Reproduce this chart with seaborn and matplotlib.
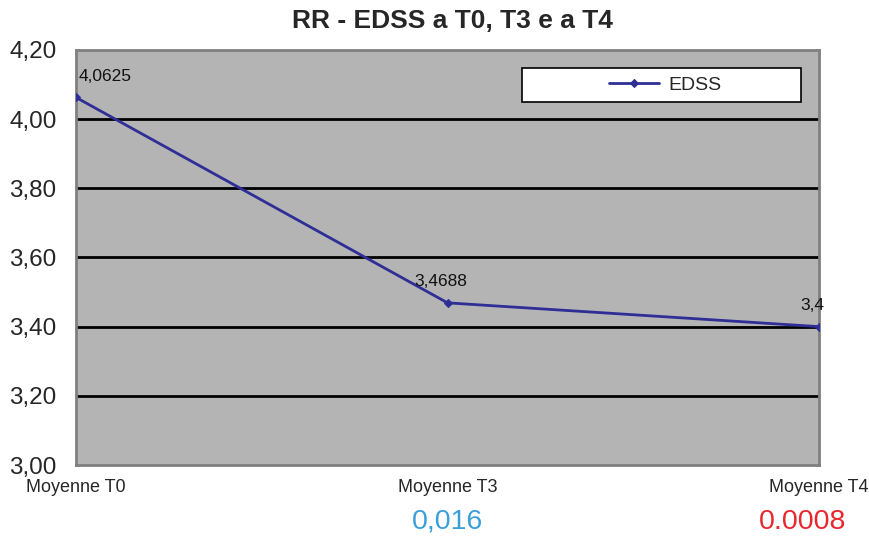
import matplotlib
matplotlib.use("Agg")
import matplotlib.pyplot as plt
from matplotlib.patches import Rectangle
import seaborn as sns
import pandas as pd

# ── Data ──────────────────────────────────────────────────────────────
categories = ["Moyenne T0", "Moyenne T3", "Moyenne T4"]
edss = [4.0625, 3.4688, 3.4]
point_labels = ["4,0625", "3,4688", "3,4"]
y_ticks = [3.00, 3.20, 3.40, 3.60, 3.80, 4.00, 4.20]
p_values = ["0,016", "0.0008"]
p_colors = ["#3a9fd8", "#e8262b"]

df = pd.DataFrame({"x": range(len(categories)), "EDSS": edss})

sns.set_theme(style="white")
plt.rcParams["font.family"] = ["Liberation Sans", "DejaVu Sans"]

fig = plt.figure(figsize=(8.7, 5.42), dpi=100)
ax = fig.add_axes([0.0874, 0.142, 0.854, 0.766])
ax.set_facecolor("#b4b4b4")

# black gridlines (inner ticks only)
for yv in y_ticks[1:-1]:
    ax.axhline(yv, color="black", lw=2, zorder=1)

sns.lineplot(data=df, x="x", y="EDSS", ax=ax, color="#2e2e96", lw=2,
             marker="D", markersize=4, markeredgecolor="#2e2e96",
             label="EDSS", zorder=3)

label_dx = [21, -5, -5]
for i, (v, lab) in enumerate(zip(edss, point_labels)):
    ax.annotate(lab, (i, v), xytext=(label_dx[i], 10), textcoords="offset points",
                ha="center", va="bottom", fontsize=12.5, color="#111111")

ax.set_xlim(0, len(categories) - 1)
ax.set_ylim(y_ticks[0], y_ticks[-1])
ax.set_yticks(y_ticks)
ax.set_yticklabels([f"{t:.2f}".replace(".", ",") for t in y_ticks], fontsize=17.5)
ax.set_xticks(range(len(categories)))
ax.set_xticklabels(categories, fontsize=13)
ax.tick_params(axis="y", length=6, width=1.5, color="#808080", pad=8)
ax.tick_params(axis="x", length=0, pad=10)
ax.set_xlabel("")
ax.set_ylabel("")
for s in ax.spines.values():
    s.set_color("#808080")
    s.set_linewidth(2)

# legend: white box with content centred a bit right, as in the original
ax.add_patch(Rectangle((0.600, 0.874), 0.376, 0.082, transform=ax.transAxes,
                       facecolor="white", edgecolor="black", lw=1.2, zorder=4))
leg = ax.legend(loc="center", bbox_to_anchor=(0.793, 0.916), frameon=False,
                fontsize=14, handlelength=2.6, handletextpad=0.5)
leg.set_zorder(5)

fig.text(0.520, 0.962, "RR - EDSS a T0, T3 e a T4", ha="center", va="center",
         fontsize=19, fontweight="bold")

for xi, txt, col in zip([1, 2], p_values, p_colors):
    ax.annotate(txt, (xi, 0), xycoords=("data", "axes fraction"),
                xytext=(-12 if xi == 2 else 0, -41), textcoords="offset points",
                ha="center", va="center", fontsize=20.5, color=col)

fig.savefig("out.png", dpi=100)
